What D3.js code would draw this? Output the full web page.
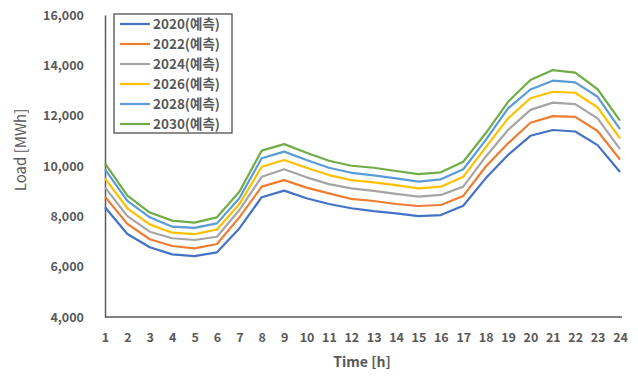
<!DOCTYPE html>
<html><head><meta charset="utf-8">
<script src="https://cdn.jsdelivr.net/npm/d3@7"></script>
<style>body{margin:0;background:#fff}svg{display:block}</style>
</head><body>
<script>
const hours = d3.range(1, 25);
const seriesNames = ["2020(예측)", "2022(예측)", "2024(예측)", "2026(예측)", "2028(예측)", "2030(예측)"];
const y2020 = [8360,7300,6770,6490,6420,6570,7520,8760,9020,8720,8490,8320,8210,8120,8010,8050,8420,9510,10440,11200,11430,11370,10830,9760];
const y2022 = [8780,7700,7090,6820,6730,6900,7960,9180,9440,9140,8910,8690,8610,8490,8410,8450,8810,9970,10900,11720,11980,11950,11390,10260];
const y2024 = [9150,8010,7390,7130,7060,7190,8250,9570,9870,9550,9280,9110,9010,8890,8780,8850,9180,10370,11430,12230,12520,12460,11890,10670];
const y2026 = [9510,8320,7680,7350,7290,7480,8490,9970,10240,9930,9640,9440,9350,9240,9110,9180,9570,10740,11890,12690,12950,12910,12330,11100];
const y2028 = [9870,8610,7960,7590,7540,7720,8720,10310,10570,10240,9930,9730,9630,9510,9380,9470,9870,11030,12290,13040,13390,13320,12750,11470];
const y2030 = [10100,8820,8150,7830,7750,7960,8980,10610,10870,10530,10210,10010,9930,9800,9680,9750,10170,11300,12550,13420,13810,13710,13050,11800];
const seriesValues = [y2020, y2022, y2024, y2026, y2028, y2030];
const colors = ["#4472C4", "#ED7D31", "#A5A5A5", "#FFC000", "#5B9BD5", "#70AD47"];
const yTicks = [4000, 6000, 8000, 10000, 12000, 14000, 16000];

const W = 638, H = 376;
const svg = d3.select("body").append("svg").attr("width", W).attr("height", H);
const fontF = "'Noto Sans CJK KR','Noto Sans',sans-serif";
const x = d3.scaleLinear().domain([1, 24]).range([105, 620]);
const y = d3.scaleLinear().domain([4000, 16000]).range([317, 15]);
const txt = "#595959";

// axes
const yAxis = svg.append("g").attr("transform", "translate(105,0)")
  .call(d3.axisLeft(y).tickValues(yTicks).tickSize(0).tickPadding(21).tickFormat(d3.format(",")));
yAxis.select(".domain").attr("stroke", "#595959").attr("stroke-width", 1.5);
yAxis.selectAll("text").attr("fill", txt).attr("font-family", fontF).attr("font-size", 12.5).attr("font-weight", "bold");

const xAxis = svg.append("g").attr("transform", "translate(0,317)")
  .call(d3.axisBottom(x).tickValues(hours).tickSize(0).tickPadding(16).tickFormat(d3.format("d")));
xAxis.select(".domain").attr("stroke", "#595959").attr("stroke-width", 1.5).attr("d", "M105,0H622");
xAxis.selectAll("text").attr("fill", txt).attr("font-family", fontF).attr("font-size", 12.5).attr("font-weight", "bold");

// titles
svg.append("text").attr("x", 362).attr("y", 367).attr("text-anchor", "middle")
  .attr("fill", txt).attr("font-family", fontF).attr("font-size", 14).attr("font-weight", "bold").text("Time [h]");
svg.append("text").attr("transform", "translate(26,150) rotate(-90)").attr("text-anchor", "middle")
  .attr("fill", txt).attr("font-family", fontF).attr("font-size", 15).text("Load [MWh]");

// lines
const line = d3.line().x((d, i) => x(hours[i])).y(d => y(d));
seriesValues.forEach((vals, k) => {
  svg.append("path").datum(vals).attr("d", line).attr("fill", "none")
    .attr("stroke", colors[k]).attr("stroke-width", 2.2).attr("stroke-linejoin", "round");
});

// legend
const lg = svg.append("g");
lg.append("rect").attr("x", 114).attr("y", 14).attr("width", 118).attr("height", 119)
  .attr("fill", "#fff").attr("stroke", "#404040").attr("stroke-width", 1.2);
seriesNames.forEach((n, k) => {
  const yy = 24 + k * 20;
  lg.append("line").attr("x1", 120).attr("x2", 150).attr("y1", yy).attr("y2", yy)
    .attr("stroke", colors[k]).attr("stroke-width", 2.2);
  lg.append("text").attr("x", 153).attr("y", yy + 5).attr("fill", txt)
    .attr("font-family", fontF).attr("font-size", 13.5).attr("font-weight", "bold").text(n);
});
</script>
</body></html>
